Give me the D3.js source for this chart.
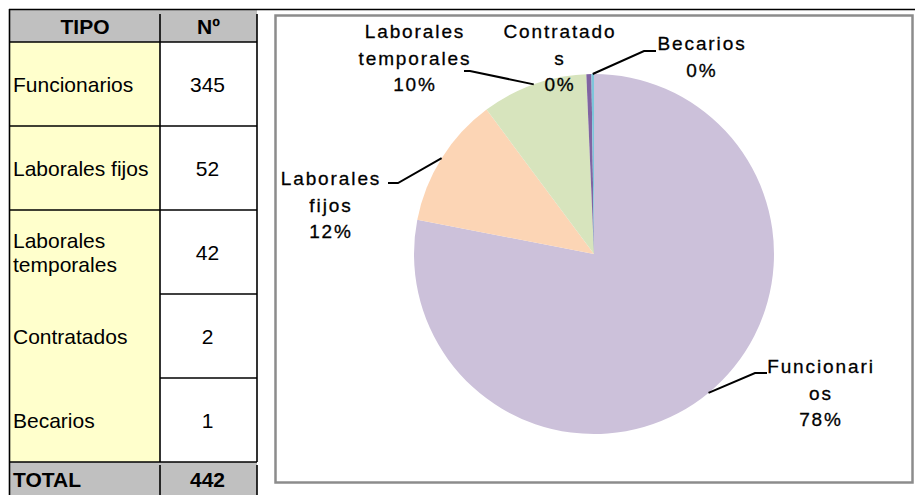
<!DOCTYPE html>
<html>
<head>
<meta charset="utf-8">
<script src="https://cdn.jsdelivr.net/npm/d3@7"></script>
<style>
  html, body { margin: 0; padding: 0; background: #fff; }
  svg { display: block; }
</style>
</head>
<body>
<svg id="chart" width="915" height="495"></svg>
<script>
// Personal por tipo
const categories = ["Funcionarios", "Laborales fijos", "Laborales temporales", "Contratados", "Becarios"];
const values = [345, 52, 42, 2, 1];
const tableHeaders = ["TIPO", "Nº"];
const totalLabel = "TOTAL";
// wrapped pie label text (as the chart wraps it)
const pieLabelLines = [["Funcionari", "os"], ["Laborales", "fijos"], ["Laborales", "temporales"], ["Contratado", "s"], ["Becarios"]];
const sliceColors = ["#CCC1DA", "#FCD5B5", "#D7E4BD", "#8064A2", "#7DC6DB"];

const total = d3.sum(values);
const svg = d3.select("#chart");
const FONT = "'Liberation Sans', Arial, sans-serif";
const TFS = 21; // table font size

/* ---------------- Table ---------------- */
const tX = [10, 160, 257];           // column edges
const headerTop = 10, headerH = 32, rowH = 84;
const rowY = i => headerTop + headerH + i * rowH;
const totalTop = rowY(categories.length);
// horizontal rules across the name column (merged look for the lower rows)
const leftRule = [true, true, true, false, false, true];

const tbl = svg.append("g");

// header background
tbl.append("rect").attr("x", tX[0]).attr("y", headerTop).attr("width", tX[2] - tX[0]).attr("height", headerH).attr("fill", "#C0C0C0");
// body cells
categories.forEach((c, i) => {
  tbl.append("rect").attr("x", tX[0]).attr("y", rowY(i)).attr("width", tX[1] - tX[0]).attr("height", rowH).attr("fill", "#FFFFCC");
  tbl.append("rect").attr("x", tX[1]).attr("y", rowY(i)).attr("width", tX[2] - tX[1]).attr("height", rowH).attr("fill", "#FFFFFF");
});
// total row background
tbl.append("rect").attr("x", tX[0]).attr("y", totalTop).attr("width", tX[2] - tX[0]).attr("height", 495 - totalTop).attr("fill", "#C0C0C0");

const line = (x1, y1, x2, y2, w) => tbl.append("line")
  .attr("x1", x1).attr("y1", y1).attr("x2", x2).attr("y2", y2)
  .attr("stroke", "#000").attr("stroke-width", w || 1.6);

// top rule running across the page
line(9, 9.5, 915, 9.5, 1.6);
// outer left edge
line(9.5, 9, 9.5, 495);
// column divider and right edge (start a little below the header top)
line(tX[1], headerTop + 4, tX[1], totalTop);
line(tX[2], headerTop + 4, tX[2], totalTop);
line(tX[1], totalTop + 3, tX[1], 495);
line(tX[2], totalTop + 3, tX[2], 495);
// horizontal rules
line(tX[0], headerTop + headerH, tX[2], headerTop + headerH);
for (let i = 1; i <= categories.length; i++) {
  const y = rowY(i);
  line(leftRule[i] ? tX[0] : tX[1], y, tX[2], y);
}

// header text
tbl.append("text").attr("x", (tX[0] + tX[1]) / 2).attr("y", headerTop + 24)
  .attr("text-anchor", "middle").attr("font-family", FONT).attr("font-weight", "bold").attr("font-size", TFS)
  .text(tableHeaders[0]);
tbl.append("text").attr("x", (tX[1] + tX[2]) / 2).attr("y", headerTop + 24)
  .attr("text-anchor", "middle").attr("font-family", FONT).attr("font-weight", "bold").attr("font-size", TFS)
  .text(tableHeaders[1]);

// body text
categories.forEach((c, i) => {
  const cy = rowY(i) + rowH / 2;
  const words = c === "Laborales temporales" ? ["Laborales", "temporales"] : [c];
  const lh = 24;
  const t = tbl.append("text").attr("font-family", FONT).attr("font-size", TFS).attr("fill", "#000");
  words.forEach((w, k) => {
    t.append("tspan").attr("x", 13)
      .attr("y", cy + 7.5 + (k - (words.length - 1) / 2) * lh)
      .text(w);
  });
  tbl.append("text").attr("x", (tX[1] + tX[2]) / 2 - 1).attr("y", cy + 7.5)
    .attr("text-anchor", "middle").attr("font-family", FONT).attr("font-size", TFS)
    .text(values[i]);
});

// total row text
tbl.append("text").attr("x", 13).attr("y", totalTop + 25)
  .attr("font-family", FONT).attr("font-weight", "bold").attr("font-size", TFS).text(totalLabel);
tbl.append("text").attr("x", (tX[1] + tX[2]) / 2 - 1).attr("y", totalTop + 25)
  .attr("text-anchor", "middle").attr("font-family", FONT).attr("font-weight", "bold").attr("font-size", TFS)
  .text(total);

/* ---------------- Pie chart ---------------- */
// chart frame
svg.append("rect").attr("x", 275.5).attr("y", 15.5).attr("width", 637).attr("height", 467)
  .attr("fill", "#fff").attr("stroke", "#8C8C8C").attr("stroke-width", 2.5);

const cx = 594, cy = 254, R = 180;
const g = svg.append("g").attr("transform", `translate(${cx},${cy})`);

const pie = d3.pie().sort(null).startAngle(0).endAngle(2 * Math.PI).value(d => d.value);
const arcs = pie(categories.map((c, i) => ({ name: c, value: values[i], color: sliceColors[i], lines: pieLabelLines[i] })));
const arc = d3.arc().innerRadius(0).outerRadius(R);

g.selectAll("path.slice").data(arcs).join("path")
  .attr("class", "slice")
  .attr("d", arc)
  .attr("fill", d => d.data.color);

// label placement relative to the pie centre: text centre/first baseline, leader elbow and end
const labelLayout = [
  { tx: 227, ty: 119, elbow: [161, 119], end: [173, 119] },    // Funcionarios
  { tx: -263, ty: -69, elbow: [-196, -71], end: [-206, -71] }, // Laborales fijos
  { tx: -179, ty: -216, elbow: [-124, -183], end: [-130, -183] }, // Laborales temporales
  { tx: -34, ty: -216, elbow: null },                          // Contratados
  { tx: 108, ty: -204, elbow: [50, -203], end: [62, -203] }    // Becarios
];

const lineH = 26.5;
arcs.forEach((d, i) => {
  const L = labelLayout[i];
  const mid = (d.startAngle + d.endAngle) / 2;
  const px = Math.sin(mid) * R, py = -Math.cos(mid) * R;
  if (L.elbow) {
    const pts = [[px, py], L.elbow, L.end];
    g.append("polyline")
      .attr("points", pts.map(p => p.join(",")).join(" "))
      .attr("fill", "none").attr("stroke", "#000").attr("stroke-width", 2);
  }
  const pct = Math.round(d.data.value / total * 100) + "%";
  const lines = d.data.lines.concat([pct]);
  const t = g.append("text")
    .attr("text-anchor", "middle")
    .attr("font-family", FONT)
    .attr("font-size", 19)
    .attr("letter-spacing", 1.9)
    .attr("fill", "#000")
    .attr("stroke", "#000").attr("stroke-width", 0.3);
  lines.forEach((s, k) => {
    t.append("tspan").attr("x", L.tx).attr("y", L.ty + k * lineH).text(s);
  });
});
</script>
</body>
</html>
